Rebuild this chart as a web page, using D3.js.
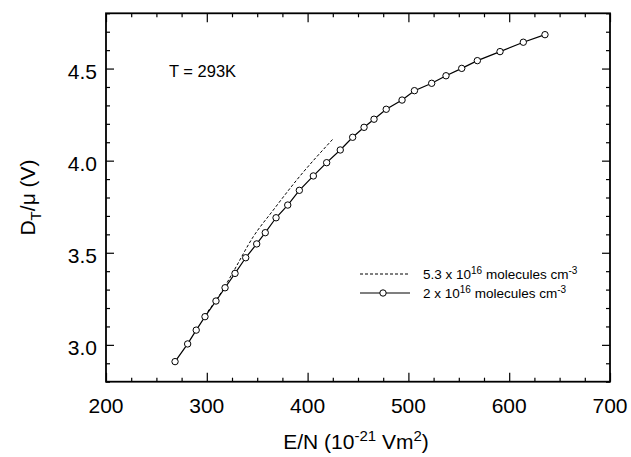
<!DOCTYPE html>
<html>
<head>
<meta charset="utf-8">
<script src="https://cdn.jsdelivr.net/npm/d3@7"></script>
<style>
  body { margin: 0; background: #fff; }
  svg text { font-family: "Liberation Sans", Arial, sans-serif; fill: #000; }
</style>
</head>
<body>
<div id="viz"></div>
<script>
"use strict";

// 2 x 10^16 molecules cm^-3 (solid, circles)
let solidEN = [268.5, 281, 289.5, 298.2, 309.1, 318.1, 328.0, 338.6, 349.5, 358.0,
               368.7, 380.3, 391.8, 405.7, 418.9, 432.4, 444.7, 456.0, 465.9, 478.0,
               493.7, 506.0, 523.1, 537.3, 552.9, 568.4, 590.9, 614.0, 635.5];
let solidD = [2.909, 3.005, 3.080, 3.153, 3.238, 3.310, 3.388, 3.473, 3.548, 3.609,
              3.690, 3.759, 3.839, 3.917, 3.989, 4.058, 4.127, 4.181, 4.225, 4.279,
              4.329, 4.380, 4.420, 4.461, 4.501, 4.543, 4.592, 4.643, 4.684];

// 5.3 x 10^16 molecules cm^-3 (dashed)
let dashEN = [298, 314.8, 326.3, 346.1, 366.0, 389.2, 424.9];
let dashD = [3.160, 3.289, 3.397, 3.587, 3.732, 3.895, 4.116];

let xTicks = [200, 300, 400, 500, 600, 700];
let yTicks = [3.0, 3.5, 4.0, 4.5];

let width = 631, height = 457;
let padL = 106, padR = 610, padT = 13.3, padB = 381.7;

let svg = d3.select('#viz').append('svg')
            .attr('width', width)
            .attr('height', height);

let xScale = d3.scaleLinear().domain([200, 700]).range([padL, padR]);
let yScale = d3.scaleLinear().domain([2.8, 4.8]).range([padB, padT]);

let xMinor = d3.range(200, 701, 25).filter(v => v % 100 !== 0);
let yMinor = d3.range(28, 49).map(v => v / 10).filter(v => Math.round(v * 10) % 5 !== 0);

function styleAxis(g) {
    g.select('.domain').remove();
    g.selectAll('.tick line').attr('stroke', '#000').attr('stroke-width', 1.2);
}

// major + minor ticks, pointing inward on all four sides
let axes = [
    [() => d3.axisBottom(xScale), `translate(0,${padB})`, -9, xTicks, xMinor],
    [() => d3.axisTop(xScale), `translate(0,${padT})`, -9, xTicks, xMinor],
    [() => d3.axisLeft(yScale), `translate(${padL},0)`, -8, yTicks, yMinor],
    [() => d3.axisRight(yScale), `translate(${padR},0)`, -8, yTicks, yMinor]
];
axes.forEach(([mk, tr, major, ticks, minorTicks]) => {
    svg.append('g').attr('transform', tr)
       .call(mk().tickValues(minorTicks).tickSize(-4).tickFormat(''))
       .call(styleAxis);
    svg.append('g').attr('transform', tr)
       .call(mk().tickValues(ticks).tickSize(major).tickFormat(''))
       .call(styleAxis);
});

// frame
svg.append('rect')
   .attr('x', padL).attr('y', padT)
   .attr('width', padR - padL).attr('height', padB - padT)
   .attr('fill', 'none').attr('stroke', '#000').attr('stroke-width', 1.8);

// tick labels
svg.selectAll('.xlab').data(xTicks).enter().append('text')
   .attr('x', d => xScale(d)).attr('y', 413)
   .attr('text-anchor', 'middle').attr('font-size', '21px')
   .text(d => d);

svg.selectAll('.ylab').data(yTicks).enter().append('text')
   .attr('x', padL - 9).attr('y', d => yScale(d) + 10)
   .attr('text-anchor', 'end').attr('font-size', '21px')
   .text(d => d.toFixed(1));

// axis titles
let xt = svg.append('text').attr('x', 356).attr('y', 449)
            .attr('text-anchor', 'middle').attr('font-size', '21px');
xt.append('tspan').text('E/N (10');
xt.append('tspan').attr('dy', -8).attr('font-size', '15px').text('-21');
xt.append('tspan').attr('dy', 8).text(' Vm');
xt.append('tspan').attr('dy', -8).attr('font-size', '15px').text('2');
xt.append('tspan').attr('dy', 8).text(')');

let yt = svg.append('text')
            .attr('transform', `translate(35,${(padT + padB) / 2}) rotate(-90)`)
            .attr('text-anchor', 'middle').attr('font-size', '21px');
yt.append('tspan').text('D');
yt.append('tspan').attr('dy', 6).attr('font-size', '15px').text('T');
yt.append('tspan').attr('dy', -6).text('/\u03bc (V)');

svg.append('text').attr('x', 169).attr('y', 77)
   .attr('font-size', '16.5px').text('T = 293K');

// series
let solid = solidEN.map((x, i) => [x, solidD[i]]);
let dashed = dashEN.map((x, i) => [x, dashD[i]]);

let line = d3.line().x(d => xScale(d[0])).y(d => yScale(d[1]));

svg.append('path').datum(dashed)
   .attr('d', line.curve(d3.curveMonotoneX))
   .attr('fill', 'none').attr('stroke', '#000')
   .attr('stroke-width', 1).attr('stroke-dasharray', '3,2');

svg.append('path').datum(solid)
   .attr('d', line.curve(d3.curveLinear))
   .attr('fill', 'none').attr('stroke', '#000').attr('stroke-width', 1.2);

svg.selectAll('circle.pt').data(solid).enter().append('circle')
   .attr('class', 'pt')
   .attr('cx', d => xScale(d[0])).attr('cy', d => yScale(d[1]))
   .attr('r', 3.2).attr('fill', '#fff').attr('stroke', '#000').attr('stroke-width', 1);

// legend
let lx = 360, ly1 = 274, ly2 = 293;
svg.append('line').attr('x1', lx).attr('x2', lx + 50).attr('y1', ly1).attr('y2', ly1)
   .attr('stroke', '#000').attr('stroke-width', 1).attr('stroke-dasharray', '3,2');
svg.append('line').attr('x1', lx).attr('x2', lx + 50).attr('y1', ly2).attr('y2', ly2)
   .attr('stroke', '#000').attr('stroke-width', 1.2);
svg.append('circle').attr('cx', lx + 23).attr('cy', ly2).attr('r', 3.2)
   .attr('fill', '#fff').attr('stroke', '#000');

function legendText(y, lead) {
    let t = svg.append('text').attr('x', 423).attr('y', y + 5).attr('font-size', '13.5px');
    t.append('tspan').text(lead + ' x 10');
    t.append('tspan').attr('dy', -5).attr('font-size', '10px').text('16');
    t.append('tspan').attr('dy', 5).text(' molecules cm');
    t.append('tspan').attr('dy', -5).attr('font-size', '10px').text('-3');
}
legendText(ly1, '5.3');
legendText(ly2, '2');
</script>
</body>
</html>
